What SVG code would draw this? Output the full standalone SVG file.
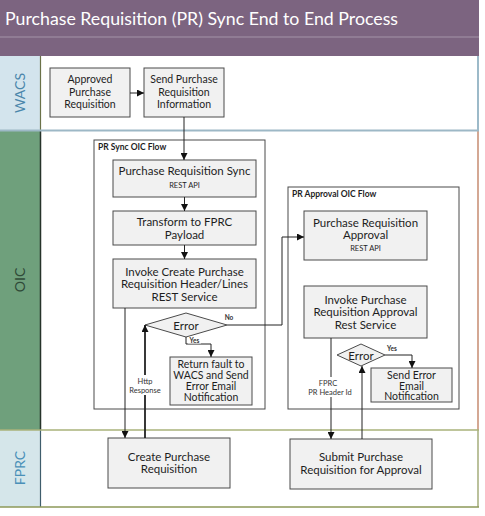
<svg xmlns="http://www.w3.org/2000/svg" width="485" height="516" viewBox="0 0 485 516">
<style>
text{font-family:Lato,"Noto Sans","Liberation Sans",sans-serif;fill:#1e1e1e}
.box{fill:#f1f1f1;stroke:#4a4a4a;stroke-width:1}
.cont{fill:#fff;stroke:#4a4a4a;stroke-width:1}
.t{font-size:10.5px;text-anchor:middle}
.tl{font-size:11.5px;text-anchor:middle}
.s{font-size:7.5px;text-anchor:middle}
.lbl{font-size:7.5px;text-anchor:middle;fill:#333}
.yn{font-size:6.5px;font-weight:bold;text-anchor:middle;fill:#333}
.ct{font-size:8.5px;font-weight:bold}
.c{fill:none;stroke:#222;stroke-width:1}
.lane{font-size:14px;text-anchor:middle}
</style>
<defs>
<marker id="ah" viewBox="0 0 8 8" refX="8" refY="4" markerWidth="7" markerHeight="7" markerUnits="userSpaceOnUse" orient="auto">
<path d="M0,0 L8,4 L0,8 z" fill="#111"/>
</marker>
</defs>

<g id="lanes">
<rect x="0" y="0" width="479" height="56" fill="#7c6480"/>
<line x1="0" y1="37" x2="479" y2="37" stroke="#a494a8" stroke-width="1.2"/>
<text x="5" y="25" font-size="18" style="fill:#fff" textLength="393" lengthAdjust="spacingAndGlyphs">Purchase Requisition (PR) Sync End to End Process</text>

<rect x="0" y="56" width="40" height="74" fill="#d3e4ed"/>
<rect x="40" y="56" width="438" height="74" fill="#fff"/>
<rect x="0" y="131" width="40" height="299" fill="#6fa07c"/>
<rect x="40" y="131" width="438" height="299" fill="#fff"/>
<rect x="0" y="430" width="40" height="77" fill="#d5e6ea"/>
<rect x="40" y="430" width="438" height="77" fill="#fff"/>

<line x1="40.5" y1="56" x2="40.5" y2="130" stroke="#6b7248" stroke-width="1.2"/>
<line x1="40.5" y1="131" x2="40.5" y2="430" stroke="#26332a" stroke-width="1.5"/>
<line x1="40.5" y1="430" x2="40.5" y2="507" stroke="#3f5d6c" stroke-width="1.2"/>
<line x1="478" y1="56" x2="478" y2="130" stroke="#5b8ca5" stroke-width="1.2"/>
<line x1="478" y1="131" x2="478" y2="430" stroke="#b86e4c" stroke-width="1.2"/>
<line x1="478" y1="430" x2="478" y2="507" stroke="#8d9859" stroke-width="1.2"/>
<line x1="0" y1="130.5" x2="479" y2="130.5" stroke="#9db8c6" stroke-width="2"/>
<line x1="0" y1="430" x2="479" y2="430" stroke="#a9b27a" stroke-width="1.5"/>
<line x1="0" y1="507" x2="479" y2="507" stroke="#8d9859" stroke-width="1.5"/>

<text class="lane" transform="translate(25,93) rotate(-90)" style="fill:#4a86ab">WACS</text>
<text class="lane" transform="translate(25,280) rotate(-90)" style="fill:#2f4a38">OIC</text>
<text class="lane" transform="translate(25,468) rotate(-90)" style="fill:#4a90b8">FPRC</text>
</g>

<g id="pr-sync-flow">
<rect class="cont" x="94" y="140" width="171" height="269"/>
<text class="ct" x="98" y="150">PR Sync OIC Flow</text>
</g>
<g id="pr-approval-flow">
<rect class="cont" x="288" y="187" width="171" height="222"/>
<text class="ct" x="292" y="197">PR Approval OIC Flow</text>
</g>

<g id="approved-pr">
<rect class="box" x="50" y="68" width="80" height="49"/>
<text class="t" x="90" y="83">Approved</text>
<text class="t" x="90" y="95.5">Purchase</text>
<text class="t" x="90" y="108">Requisition</text>
</g>
<g id="send-pr-info">
<rect class="box" x="144" y="68" width="80" height="49"/>
<text class="t" x="184" y="83">Send Purchase</text>
<text class="t" x="184" y="95.5">Requisition</text>
<text class="t" x="184" y="108">Information</text>
</g>

<g id="pr-sync">
<rect class="box" x="113" y="160" width="143" height="37"/>
<text class="tl" x="184.5" y="175">Purchase Requisition Sync</text>
<text class="s" x="184.5" y="188">REST API</text>
</g>
<g id="transform">
<rect class="box" x="113" y="211" width="143" height="34"/>
<text class="tl" x="184.5" y="225.5">Transform to FPRC</text>
<text class="tl" x="184.5" y="238.5">Payload</text>
</g>
<g id="invoke-create">
<rect class="box" x="113" y="259" width="143" height="49"/>
<text class="tl" x="184.5" y="275.5">Invoke Create Purchase</text>
<text class="tl" x="184.5" y="288">Requisition Header/Lines</text>
<text class="tl" x="184.5" y="300.5">REST Service</text>
</g>
<g id="error-sync">
<polygon points="145,325 186,313 227,325 186,337" fill="#f1f1f1" stroke="#4a4a4a"/>
<text class="tl" x="186" y="329.5">Error</text>
</g>
<g id="return-fault">
<rect class="box" x="170" y="357" width="82" height="48"/>
<text class="t" x="211" y="367.5">Return fault to</text>
<text class="t" x="211" y="378.5">WACS and Send</text>
<text class="t" x="211" y="389.5">Error Email</text>
<text class="t" x="211" y="400.5">Notification</text>
</g>

<g id="pr-approval">
<rect class="box" x="304" y="211" width="123" height="49"/>
<text class="tl" x="365.5" y="226.5">Purchase Requisition</text>
<text class="tl" x="365.5" y="239">Approval</text>
<text class="s" x="365.5" y="250.5">REST API</text>
</g>
<g id="invoke-approval">
<rect class="box" x="304" y="286" width="123" height="52"/>
<text class="tl" x="365.5" y="303.5">Invoke Purchase</text>
<text class="tl" x="365.5" y="316">Requisition Approval</text>
<text class="tl" x="365.5" y="328.5">Rest Service</text>
</g>
<g id="error-approval">
<polygon points="337,355 361,344 385,355 361,366" fill="#f1f1f1" stroke="#4a4a4a"/>
<text class="tl" x="361" y="359.5">Error</text>
</g>
<g id="send-error">
<rect class="box" x="371" y="368" width="81" height="34"/>
<text class="t" x="411.5" y="379">Send Error</text>
<text class="t" x="411.5" y="389.5">Email</text>
<text class="t" x="411.5" y="400">Notification</text>
</g>

<g id="create-pr">
<rect class="box" x="108" y="438" width="122" height="50"/>
<text class="tl" x="169" y="460.5">Create Purchase</text>
<text class="tl" x="169" y="473">Requisition</text>
</g>
<g id="submit-pr">
<rect class="box" x="290" y="439" width="142" height="50"/>
<text class="tl" x="361" y="461">Submit Purchase</text>
<text class="tl" x="361" y="473.5">Requisition for Approval</text>
</g>

<g id="connectors">
<path class="c" d="M130,93 H144" marker-end="url(#ah)"/>
<path class="c" d="M184,117 V160" marker-end="url(#ah)"/>
<path class="c" d="M184.5,197 V211" marker-end="url(#ah)"/>
<path class="c" d="M184.5,245 V259" marker-end="url(#ah)"/>
<path class="c" d="M125,308 V438" marker-end="url(#ah)"/>
<path class="c" d="M145,438 V325" style="stroke-width:1.8" marker-end="url(#ah)"/>
<path class="c" d="M186,337 V344 H211 V357" marker-end="url(#ah)"/>
<path class="c" d="M227,325 H282 V237 H304" marker-end="url(#ah)"/>
<path class="c" d="M331,338 V439" marker-end="url(#ah)"/>
<path class="c" d="M362,439 V366" marker-end="url(#ah)"/>
<path class="c" d="M385,355 H412 V368" marker-end="url(#ah)"/>

<rect x="188" y="337.5" width="13" height="6" fill="#fff"/>
<text class="yn" x="194.5" y="343">Yes</text>
<text class="yn" x="229" y="320">No</text>
<text class="yn" x="392" y="351">Yes</text>
<rect x="130" y="375" width="31" height="20" fill="#fff"/>
<text class="lbl" x="145" y="384">Http</text>
<text class="lbl" x="145" y="393">Response</text>
<rect x="306" y="377" width="50" height="20" fill="#fff"/>
<text class="lbl" x="328" y="386">FPRC</text>
<text class="lbl" x="330" y="395">PR Header Id</text>
</g>
</svg>
